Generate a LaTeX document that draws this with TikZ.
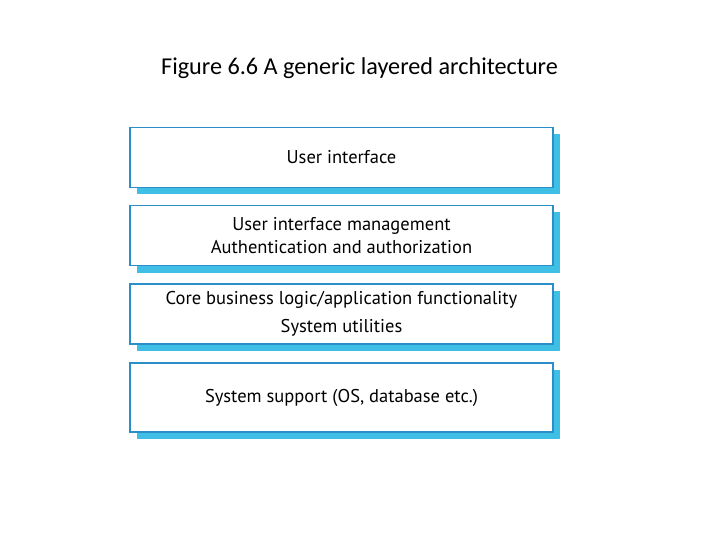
\documentclass[tikz,border=0pt]{standalone}
\usepackage{fontspec}
\setmainfont{PT Sans}
\newfontfamily\titlefont{Carlito}
\usetikzlibrary{shadows}
\definecolor{layerblue}{HTML}{2A8FC8}
\definecolor{shadowcyan}{HTML}{40BFE6}

\begin{document}
\begin{tikzpicture}[x=1pt,y=1pt,font=\fontsize{18.5}{23}\selectfont]
    \tikzset{
      layer/.style={draw=layerblue, line width=1.4pt, fill=white, align=center,
        minimum width=423pt, inner sep=0pt,
        drop shadow={shadow xshift=7pt, shadow yshift=-7pt, fill=shadowcyan, opacity=1}},
      title/.style={font=\titlefont\fontsize{24.2}{28}\selectfont}
    }
    \useasboundingbox (0,0) rectangle (720,-540);
    \node[title] (caption) at (359.5,-68) {Figure 6.6 A generic layered architecture};

    \node[layer, minimum height=60pt] (ui) at (341.5,-157.5) {User interface};
    \node[layer, minimum height=60pt] (uim) at (341.5,-235.5)
      {User interface management\\Authentication and authorization};
    \node[layer, minimum height=60pt, font=\fontsize{18.5}{28}\selectfont] (core) at (341.5,-314)
      {Core business logic/application functionality\\System utilities};
    \node[layer, minimum height=69pt] (support) at (341.5,-397.5)
      {System support (OS, database etc.)};
  \end{tikzpicture}
\end{document}
